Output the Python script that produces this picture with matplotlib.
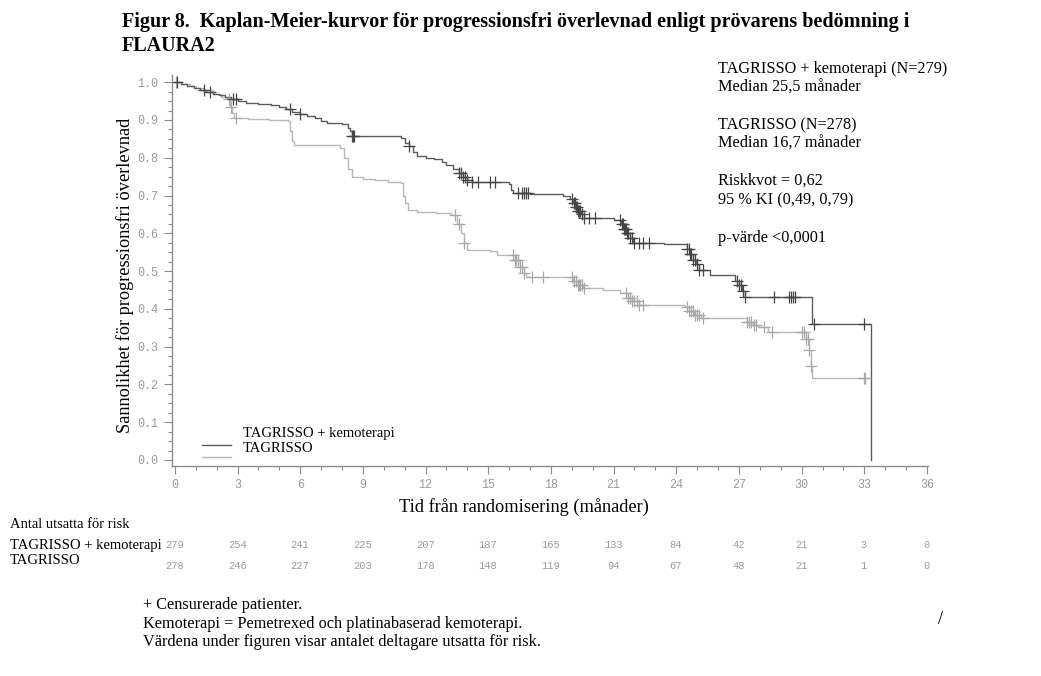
import numpy as np
import matplotlib.pyplot as plt
from matplotlib.lines import Line2D

# ============================================================
# Data
# ============================================================

# TAGRISSO + kemoterapi: step times (months) and survival
combo_t = [0, 0.3, 0.6, 0.9, 1.2, 1.5, 1.8, 2.1, 2.4, 2.7, 3.0, 3.4, 4.0, 4.6, 5.0,
           5.3, 5.6, 6.0, 6.3, 6.7, 7.0, 7.3, 8.0, 8.3, 8.4, 8.5, 10.8, 11.0, 11.2,
           11.4, 11.6, 12.0, 12.4, 12.8, 13.0, 13.3, 13.6, 13.8, 14.0, 14.2, 16.0,
           16.1, 16.2, 17.0, 18.6, 18.9, 19.05, 19.2, 19.3, 19.45, 19.6, 21.0,
           21.35, 21.5, 21.65, 21.8, 21.95, 23.4, 24.5, 24.65, 24.8, 24.95, 25.1,
           25.6, 26.8, 27.0, 27.15, 27.3, 30.5, 33.3]
combo_s = [1.0, 0.995, 0.99, 0.985, 0.98, 0.975, 0.97, 0.965, 0.96, 0.955, 0.95,
           0.946, 0.942, 0.94, 0.935, 0.93, 0.922, 0.915, 0.91, 0.905, 0.898,
           0.893, 0.89, 0.88, 0.87, 0.857, 0.853, 0.84, 0.83, 0.815, 0.805, 0.80,
           0.796, 0.79, 0.78, 0.77, 0.76, 0.75, 0.74, 0.736, 0.73, 0.715, 0.707,
           0.705, 0.70, 0.69, 0.68, 0.67, 0.66, 0.65, 0.641, 0.635, 0.625, 0.612,
           0.60, 0.588, 0.575, 0.571, 0.558, 0.545, 0.53, 0.518, 0.503, 0.489,
           0.475, 0.462, 0.448, 0.432, 0.36, 0.0]
combo_cens = [0.1, 1.4, 1.7, 2.8, 2.9, 5.5, 6.0, 8.5, 8.52, 8.55, 11.2, 13.6, 13.7,
              13.8, 13.9, 14.0, 14.2, 14.5, 15.1, 15.3, 16.4, 16.6, 16.7, 16.8, 16.9,
              19.0, 19.1, 19.15, 19.2, 19.25, 19.3, 19.35, 19.4, 19.5, 19.6, 19.8,
              20.1, 21.3, 21.4, 21.45, 21.5, 21.55, 21.6, 21.65, 21.7, 21.8, 21.9,
              22.0, 22.2, 22.4, 22.7, 24.5, 24.6, 24.65, 24.7, 24.8, 24.9, 25.0,
              25.1, 25.3, 26.9, 27.0, 27.1, 27.2, 27.3, 28.7, 29.4, 29.5, 29.6,
              29.7, 30.6, 33.0]

# TAGRISSO
osi_t = [0, 0.3, 0.7, 1.0, 1.4, 1.8, 2.2, 2.5, 2.65, 2.75, 2.85, 3.5, 4.5, 5.4, 5.5,
         5.6, 5.7, 7.9, 8.1, 8.3, 8.5, 9.0, 9.6, 10.2, 10.8, 10.9, 11.0, 11.15,
         11.6, 12.5, 13.2, 13.5, 13.7, 13.85, 14.0, 15.1, 15.4, 16.3, 16.5, 16.7,
         16.8, 19.05, 19.3, 19.55, 20.5, 21.3, 21.7, 21.9, 22.2, 24.4, 24.6, 24.85,
         25.2, 27.4, 27.65, 27.9, 28.4, 30.2, 30.35, 30.45, 30.5, 33.2]
osi_s = [1.0, 0.995, 0.99, 0.985, 0.978, 0.97, 0.962, 0.955, 0.935, 0.918, 0.905,
         0.903, 0.90, 0.897, 0.87, 0.845, 0.833, 0.826, 0.80, 0.77, 0.75, 0.745,
         0.741, 0.737, 0.733, 0.70, 0.68, 0.661, 0.657, 0.653, 0.648, 0.625, 0.60,
         0.575, 0.556, 0.552, 0.542, 0.53, 0.51, 0.495, 0.485, 0.475, 0.463, 0.455,
         0.45, 0.441, 0.43, 0.42, 0.41, 0.405, 0.395, 0.385, 0.375, 0.365, 0.357,
         0.353, 0.34, 0.32, 0.29, 0.25, 0.216, 0.216]
osi_cens = [0.05, 2.6, 2.7, 2.9, 13.4, 13.6, 13.85, 16.2, 16.3, 16.35, 16.4, 16.5,
            16.6, 16.7, 17.1, 17.6, 19.0, 19.1, 19.2, 19.3, 19.35, 19.4, 19.5, 19.6,
            21.6, 21.7, 21.8, 21.9, 22.0, 22.1, 22.2, 22.4, 24.5, 24.6, 24.7, 24.8,
            24.9, 25.0, 25.1, 25.3, 27.4, 27.5, 27.6, 27.7, 27.8, 28.2, 28.6, 30.0,
            30.1, 30.2, 30.3, 30.35, 30.45, 33.0, 33.05]

# Number at risk
risk_months = [0, 3, 6, 9, 12, 15, 18, 21, 24, 27, 30, 33, 36]
risk_combo = [279, 254, 241, 225, 207, 187, 165, 133, 84, 42, 21, 3, 0]
risk_osi = [278, 246, 227, 203, 178, 148, 119, 94, 67, 48, 21, 1, 0]

# ============================================================
# Plot
# ============================================================

serif = "Liberation Serif"
mono = "Liberation Mono"
dark = "#5c5c5c"
light = "#b8b8b8"
axcol = "#8c8c8c"


def step_value(times, surv, t):
    i = np.searchsorted(times, t, side="right") - 1
    return np.asarray(surv)[i]


fig = plt.figure(figsize=(10.41, 6.76), dpi=100)
ax = fig.add_axes([172 / 1041, 1 - 466 / 676, 756 / 1041, 391 / 676])

ax.step(osi_t, osi_s, where="post", color=light, lw=1.0)
ax.step(combo_t, combo_s, where="post", color=dark, lw=1.0)
ax.plot(osi_cens, step_value(osi_t, osi_s, osi_cens), ls="none", marker="+",
        ms=9, mew=0.9, color="#a8a8a8")
ax.plot(combo_cens, step_value(combo_t, combo_s, combo_cens), ls="none",
        marker="+", ms=9, mew=0.9, color="#454545")

ax.set_xlim(-0.14, 36.05)
ax.set_ylim(-0.016, 1.019)
ax.set_xticks(risk_months)
ax.set_xticks(np.arange(0, 37, 1), minor=True)
ax.set_yticks(np.arange(0, 1.01, 0.1))
ax.set_yticks(np.arange(0, 1.001, 0.025), minor=True)
ax.set_yticklabels([f"{v:.1f}" for v in np.arange(0, 1.01, 0.1)])
for s in ["top", "right"]:
    ax.spines[s].set_visible(False)
for s in ["left", "bottom"]:
    ax.spines[s].set_color(axcol)
    ax.spines[s].set_linewidth(1.0)
ax.tick_params(which="both", colors=axcol, labelcolor="#9a9a9a")
ax.tick_params(which="major", length=6, width=0.8, labelsize=8.5)
ax.tick_params(axis="y", which="major", pad=4)
ax.tick_params(axis="x", which="major", pad=3)
ax.tick_params(which="minor", length=3, width=0.8)
for lab in ax.get_xticklabels() + ax.get_yticklabels():
    lab.set_fontfamily(mono)

# legend inside plot
fig.add_artist(Line2D([202 / 1041, 231 / 1041], [1 - 445 / 676] * 2,
                      color=dark, lw=1.0, transform=fig.transFigure))
fig.add_artist(Line2D([202 / 1041, 231 / 1041], [1 - 457 / 676] * 2,
                      color=light, lw=1.0, transform=fig.transFigure))
fig.text(243 / 1041, 1 - 433 / 676, "TAGRISSO + kemoterapi", family=serif,
         fontsize=10.5, va="center")
fig.text(243 / 1041, 1 - 449 / 676, "TAGRISSO", family=serif, fontsize=10.5,
         va="center")

# title
fig.text(122 / 1041, 1 - 22 / 676,
         "Figur 8.  Kaplan-Meier-kurvor för progressionsfri överlevnad enligt prövarens bedömning i",
         family=serif, fontweight="bold", fontsize=14.5, va="center")
fig.text(122 / 1041, 1 - 46 / 676, "FLAURA2", family=serif, fontweight="bold",
         fontsize=14.5, va="center")

# right-hand annotation
info = [(69, "TAGRISSO + kemoterapi (N=279)"), (88, "Median 25,5 månader"),
        (125, "TAGRISSO (N=278)"), (144, "Median 16,7 månader"),
        (181, "Riskkvot = 0,62"), (200, "95 % KI (0,49, 0,79)"),
        (238, "p-värde <0,0001")]
for y, txt in info:
    fig.text(718 / 1041, 1 - y / 676, txt, family=serif, fontsize=11.7, va="center")

# axis labels
fig.text(125 / 1041, 1 - 275 / 676, "Sannolikhet för progressionsfri överlevnad",
         family=serif, fontsize=13.2, rotation=90, ha="center", va="center")
fig.text(524 / 1041, 1 - 507 / 676, "Tid från randomisering (månader)",
         family=serif, fontsize=13.2, ha="center", va="center")

# number at risk table
fig.text(10 / 1041, 1 - 525 / 676, "Antal utsatta för risk", family=serif,
         fontsize=10.5, va="center")
fig.text(10 / 1041, 1 - 545 / 676, "TAGRISSO + kemoterapi", family=serif,
         fontsize=10.5, va="center")
fig.text(10 / 1041, 1 - 561 / 676, "TAGRISSO", family=serif, fontsize=10.5,
         va="center")
for m, n1, n2 in zip(risk_months, risk_combo, risk_osi):
    xf = (174.5 + m * 20.89) / 1041
    fig.text(xf, 1 - 545 / 676, str(n1), family=mono, fontsize=7.5,
             color="#9a9a9a", ha="center", va="center")
    fig.text(xf, 1 - 566 / 676, str(n2), family=mono, fontsize=7.5,
             color="#9a9a9a", ha="center", va="center")

# footnotes
notes = [(605, "+ Censurerade patienter."),
         (624, "Kemoterapi = Pemetrexed och platinabaserad kemoterapi."),
         (642, "Värdena under figuren visar antalet deltagare utsatta för risk.")]
for y, txt in notes:
    fig.text(143 / 1041, 1 - y / 676, txt, family=serif, fontsize=11.7, va="center")
fig.text(940 / 1041, 1 - 620 / 676, "/", family=serif, fontsize=13, ha="center",
         va="center")

fig.savefig("out.png", dpi=100)
